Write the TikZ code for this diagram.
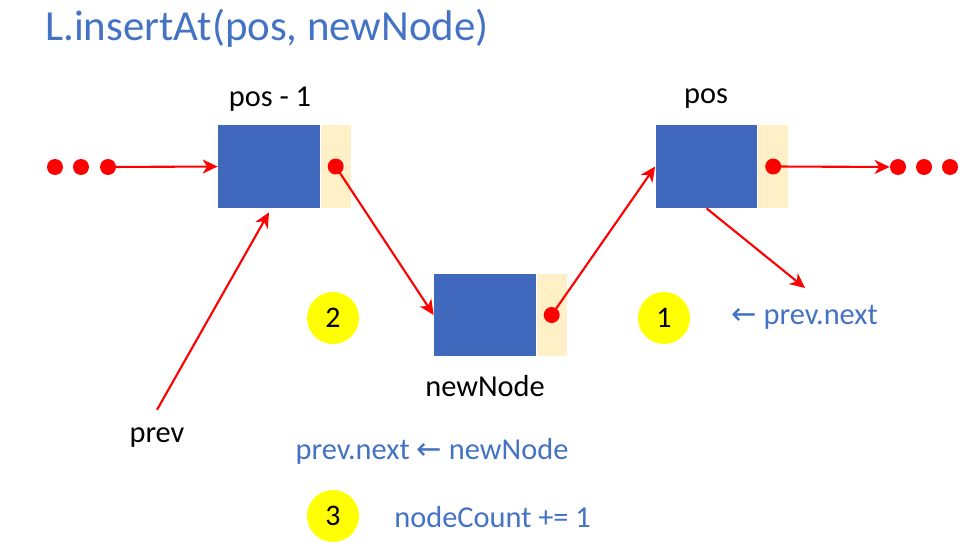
\documentclass[tikz,border=0pt]{standalone}
\usepackage{fontspec}
\setmainfont{Carlito}
\newfontfamily\arrowfont{DejaVu Sans}
\usetikzlibrary{arrows.meta}
\definecolor{textBlue}{RGB}{68, 114, 196}
\definecolor{boxBlue}{RGB}{64, 104, 188}
\definecolor{ptrBeige}{RGB}{255, 240, 200}
\definecolor{stepYellow}{RGB}{255, 255, 0}
\newcommand{\larrow}{{\arrowfont\char"2190}}

\begin{document}
\begin{tikzpicture}[x=0.02cm, y=-0.02cm,
    databox/.style={fill=boxBlue, minimum width=2.04cm, minimum height=1.66cm, inner sep=0},
    ptrbox/.style={fill=ptrBeige, minimum width=0.6cm, minimum height=1.66cm, inner sep=0, anchor=west},
    reddot/.style={circle, fill=red, minimum size=0.32cm, inner sep=0},
    link/.style={red, line width=1.2pt, -{Stealth[length=0.3cm, width=0.28cm, inset=0.09cm]}},
    badge/.style={circle, fill=stepYellow, minimum size=1.04cm, inner sep=0, font=\fontsize{17}{20}\selectfont},
    txt/.style={font=\fontsize{17.3}{20}\selectfont, inner sep=0},
    code/.style={txt, text=textBlue}]
        \useasboundingbox (0,0) rectangle (977,554);
        \node[anchor=west, text=textBlue, inner sep=0, font=\fontsize{24.4}{28}\selectfont] (title) at (45,28) {L.insertAt(pos, newNode)};
        % list nodes
        \node[databox] (prevbox) at (269,166.5) {};
        \node[ptrbox] (prevptr) at (prevbox.east) {};
        \node[reddot] (prevdot) at (prevptr) {};
        \node[databox] (newbox) at (485,315) {};
        \node[ptrbox] (newptr) at (newbox.east) {};
        \node[reddot] (newdot) at (newptr) {};
        \node[databox] (posbox) at (706.5,166.5) {};
        \node[ptrbox] (posptr) at (posbox.east) {};
        \node[reddot] (posdot) at (posptr) {};
        % names
        \node[txt] (prevname) at (270,99) {pos - 1};
        \node[txt] (posname) at (706,99) {pos};
        \node[txt] (newname) at (485,386) {newNode};
        \node[txt] (prevtxt) at (157,438) {prev};
        % dots at both ends
        \node[reddot] (ldot1) at (55,167) {};
        \node[reddot] (ldot2) at (81,167) {};
        \node[reddot] (ldot3) at (108,167) {};
        \node[reddot] (rdot1) at (898,167) {};
        \node[reddot] (rdot2) at (924,167) {};
        \node[reddot] (rdot3) at (950,167) {};
        \coordinate (oldnext) at (805,288);
        % links
        \draw[link] (ldot3.center) -- (prevbox.west);
        \draw[link] (prevdot.center) -- (newbox.west);
        \draw[link] (newdot.center) -- (posbox.west);
        \draw[link] (posdot.center) -- (rdot1);
        \draw[link] (posbox.south) -- (oldnext);
        \draw[link] ([yshift=0.36cm]prevtxt.north) -- ([yshift=-0.08cm]prevbox.south);
        % steps
        \node[badge] (step1) at (664,318) {1};
        \node[badge] (step2) at (333,318) {2};
        \node[badge] (step3) at (333,516) {3};
        \node[code, anchor=west] (code1) at (731,317) {\larrow{} prev.next};
        \node[code] (code2) at (432,451) {prev.next \larrow{} newNode};
        \node[code, anchor=west] (code3) at (394,517) {nodeCount += 1};
\end{tikzpicture}
\end{document}
